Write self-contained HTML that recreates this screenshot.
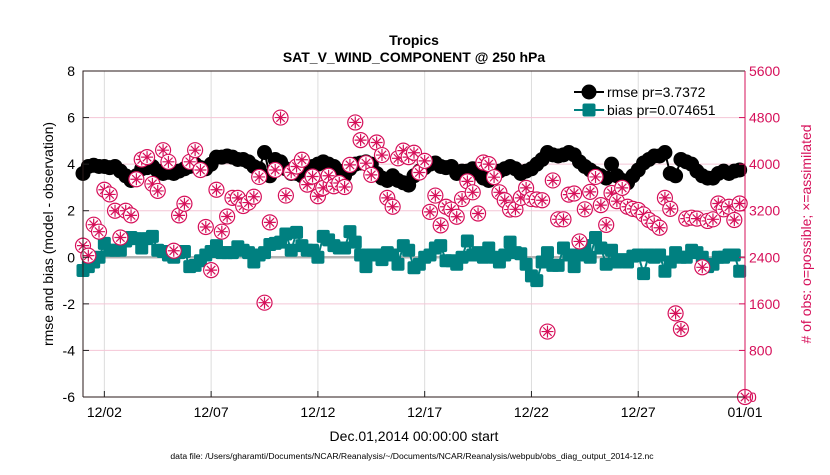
<!DOCTYPE html>
<html><head><meta charset="utf-8"><style>
body{margin:0;background:#fff;width:830px;height:470px;overflow:hidden;font-family:"Liberation Sans",sans-serif}
svg text{font-family:"Liberation Sans",sans-serif}
</style></head><body>
<svg id="chart" width="830" height="470" xmlns="http://www.w3.org/2000/svg">
<g id="grid"></g>
<g id="zero"></g>
<g id="rmse"></g>
<g id="bias"></g>
<g id="obs"></g>
<g id="axes"></g>
<text x="414" y="45" text-anchor="middle" font-size="14" font-weight="bold">Tropics</text>
<text x="414" y="62" text-anchor="middle" font-size="14" font-weight="bold">SAT_V_WIND_COMPONENT @ 250 hPa</text>
<text x="414" y="441" text-anchor="middle" font-size="14">Dec.01,2014 00:00:00 start</text>
<text transform="translate(53,234) rotate(-90)" text-anchor="middle" font-size="14">rmse and bias (model - observation)</text>
<text transform="translate(811,234) rotate(-90)" text-anchor="middle" font-size="14" fill="#d6105a"># of obs: o=possible; ×=assimilated</text>
<text x="412" y="459" text-anchor="middle" font-size="8.6">data file: /Users/gharamti/Documents/NCAR/Reanalysis/~/Documents/NCAR/Reanalysis/webpub/obs_diag_output_2014-12.nc</text>
<g>
<line x1="574" y1="92" x2="604" y2="92" stroke="#000" stroke-width="2"/>
<circle cx="589" cy="92" r="7.5" fill="#000"/>
<text x="607" y="97" font-size="14">rmse pr=3.7372</text>
<line x1="574" y1="110" x2="604" y2="110" stroke="#008080" stroke-width="2"/>
<rect x="582.5" y="103.5" width="13" height="13" rx="2" fill="#008080"/>
<text x="607" y="115" font-size="14">bias pr=0.074651</text>
</g>
</svg>
<script>
const rmseValues=[3.6,3.9,3.95,3.9, 3.9,3.85,3.9,3.7, 3.5,3.3,3.5,3.8, 3.85,3.9,3.7,3.6, 3.65,3.6,3.7,3.8, 3.9,4.0,3.85,3.8, 4.0,4.3,4.3,4.35, 4.3,4.2,4.2,4.1, 3.9,3.8,4.5,3.5, 4.2,4.1,3.8,3.6,
3.6,3.5,3.7,3.9, 4.0,4.1,4.0,3.9, 3.7,3.5,3.8,4.0, 4.05,4.1,4.0,3.6, 3.4,3.3,3.5,3.3, 3.2,3.1,3.5,3.7, 3.85,4.0,4.05,3.9, 3.85,3.9,3.6,3.7, 3.7,3.8,3.6,3.4, 3.3,3.5,3.7,3.8,
3.9,3.8,3.6,3.7, 3.8,4.0,4.2,4.5, 4.4,4.35,4.4,4.5, 4.4,4.1,3.9,3.75, 3.6,3.5,3.4,4.0, 3.5,3.3,3.2,3.5, 3.75,4.05,4.2,4.35, 4.35,4.5,3.6,3.5, 4.2,4.1,4.0,3.7, 3.5,3.4,3.4,3.6, 3.7,3.6,3.7,3.75];
const biasValues=[-0.57,-0.4,-0.2,0.0, 0.6,0.3,0.3,0.3, 0.7,0.85,0.8,0.4, 0.8,0.9,0.3,0.25, 0.1,0.0,0.2,0.25, -0.4,-0.35,-0.15,0.1, 0.25,0.5,0.2,0.2, 0.2,0.45,0.3,0.2, -0.2,0.1,0.2,0.55, 0.6,0.65,1.0,0.3,
1.07,0.5,0.3,0.3, 0.0,0.9,0.75,0.5, 0.4,0.4,1.1,0.65, 0.1,-0.4,0.1,0.1, -0.1,0.2,0.1,-0.3, 0.5,0.3,-0.45,-0.3, 0.0,0.1,0.4,0.5, -0.15,-0.15,-0.3,0.0, 0.7,0.1,0.2,0.0, 0.4,0.0,-0.2,0.1,
0.65,0.2,0.15,-0.3, -0.8,-1.0,-0.2,0.2, -0.35,-0.35,0.4,0.1, -0.4,0.1,0.5,0.0, 0.85,0.4,-0.3,0.3, -0.2,-0.1,-0.2,0.05, 0.1,-0.7,0.1,0.0, 0.1,-0.6,-0.2,0.2, 0.0,0.0,0.3,0.2, 0.0,-0.4,-0.3,0.0, 0.0,0.1,0.1,-0.6];
const obsCounts=[2600,2428,2960,2840,3560,3480,3200,2740,3200,3120,3740,4080,4120,3660,3540,4240,4040,2512,3120,3320,4040,4240,3900,2920,2180,3560,2840,3100,3420,3420,3280,3340,3440,3780,1620,3000,3900,4800,3460,3860,
3960,4076,
3648,3788,3448,3592,3800,3620,3676,3608,3988,4716,4412,4016,3816,4372,4156,3420,3268,4100,4232,4120,4196,3856,4056,3180,3460,2948,3268,3220,3096,3400,3704,3516,3152,4028,4000,3776,3516,3380,3220,
3224,3420,3592,3400,3392,3380,1124,3720,3052,3052,3476,3496,2672,3224,3524,3780,3296,2956,3504,3364,3592,3268,3232,3212,3136,3040,2984,2908,3420,3232,1436,1168,3064,3080,3064,2228,3024,3052,3324,3224,3268,3040,3324,
0];
const xTickDays=[1,6,11,16,21,26,31];
const xTickLabels=["12/02","12/07","12/12","12/17","12/22","12/27","01/01"];
const yTicks=[-6,-4,-2,0,2,4,6,8];
const y2Ticks=[0,800,1600,2400,3200,4000,4800,5600];

const NS="http://www.w3.org/2000/svg";
const L=83,R=745,T=71,B=397;
const xS=d=>L+(R-L)*d/31;
const yS=v=>B-(B-T)*(v+6)/14;
const y2S=c=>B-(B-T)*c/5600;
function mk(tag,attrs,parent){const e=document.createElementNS(NS,tag);for(const k in attrs)e.setAttribute(k,attrs[k]);parent.appendChild(e);return e;}
const grid=document.getElementById('grid'),axes=document.getElementById('axes');
xTickDays.forEach((d,i)=>{
  const g=mk('line',{x1:xS(d),x2:xS(d),y1:T,y2:B,stroke:'#dcdcdc','stroke-width':1},grid);
  
  
  const t=mk('line',{x1:xS(d),x2:xS(d),y1:B,y2:B-6,stroke:'#222'},axes);
  
  
  const l=mk('text',{x:xS(d),y:B+20,'text-anchor':'middle','font-size':14},axes);
  l.textContent=xTickLabels[i];
  
  
});
yTicks.forEach(v=>{
  if(v>-6&&v<8){const g=mk('line',{x1:L,x2:R,y1:yS(v),y2:yS(v),stroke:'#f4c6d6','stroke-width':1},grid);
  
  }
  const t=mk('line',{x1:L,x2:L+6,y1:yS(v),y2:yS(v),stroke:'#222'},axes);
  
  
  const l=mk('text',{x:L-8,y:yS(v)+5,'text-anchor':'end','font-size':14},axes);
  l.textContent=v;
  
  
});
y2Ticks.forEach(c=>{
  const t=mk('line',{x1:R,x2:R-6,y1:y2S(c),y2:y2S(c),stroke:'#d6105a'},axes);
  
  
  const l=mk('text',{x:R+4,y:y2S(c)+5,'font-size':14,fill:'#d6105a'},axes);
  l.textContent=c;
  
  
});
const zl=mk('line',{x1:L,x2:R,y1:yS(0),y2:yS(0),stroke:'#b4b4b4','stroke-width':2.5},document.getElementById('zero'));


const ax1=mk('path',{d:`M${L},${B}H${R}M${L},${B}V${T}H${R}`,stroke:'#2a1a1a',fill:'none','stroke-width':1},axes);


const ax2=mk('line',{x1:R,x2:R,y1:T,y2:B,stroke:'#d6105a'},axes);



const rg=document.getElementById('rmse');
const rl=mk('polyline',{points:rmseValues.map((v,i)=>xS(i/4)+','+yS(v)).join(' '),fill:'none',stroke:'#000','stroke-width':2},rg);


rmseValues.forEach((v,i)=>{const c=mk('circle',{cx:xS(i/4),cy:yS(v),r:7.5,fill:'#000'},rg);
  
  });
const bg=document.getElementById('bias');
const bl=mk('polyline',{points:biasValues.map((v,i)=>xS(i/4)+','+yS(v)).join(' '),fill:'none',stroke:'#008080','stroke-width':2},bg);


biasValues.forEach((v,i)=>{const s=mk('rect',{x:xS(i/4)-6.5,y:yS(v)-6.5,width:13,height:13,rx:2,fill:'#008080'},bg);
  
  });
const og=document.getElementById('obs');
obsCounts.forEach((c,i)=>{
  const cx=xS(i/4),cy=y2S(c);
  const g=mk('g',{stroke:'#d6105a',fill:'none','stroke-width':1.2},og);
  
  
  mk('circle',{cx:cx,cy:cy,r:7.5,fill:'#fff'},g);
  mk('path',{d:`M${cx-6},${cy}H${cx+6}M${cx},${cy-6}V${cy+6}M${cx-4.2},${cy-4.2}L${cx+4.2},${cy+4.2}M${cx-4.2},${cy+4.2}L${cx+4.2},${cy-4.2}`},g);
});
</script>
</body></html>
